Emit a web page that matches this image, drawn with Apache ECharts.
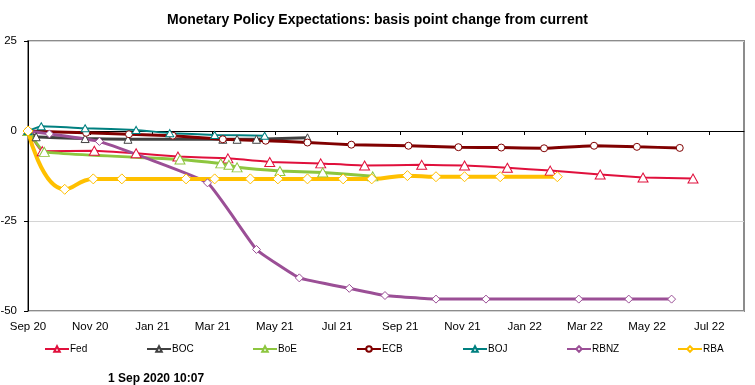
<!DOCTYPE html>
<html><head><meta charset="utf-8">
<script src="https://cdn.jsdelivr.net/npm/echarts@6/dist/echarts.min.js"></script>
<style>html,body{margin:0;padding:0;background:#fff}#c{width:755px;height:385px}</style>
</head><body><div id="c"></div>
<script>
const MONTHS = ['Jan','Feb','Mar','Apr','May','Jun','Jul','Aug','Sep','Oct','Nov','Dec'];
const xTicks = ['2020-09-01','2020-11-01','2021-01-01','2021-03-01','2021-05-01','2021-07-01','2021-09-01','2021-11-01','2022-01-01','2022-03-01','2022-05-01','2022-07-01'];
const yTicks = [-50,-25,0,25];
const xMin = '2020-09-01', xMax = '2022-08-04';

const fedDates = ['2020-09-01','2020-09-15','2020-11-05','2020-12-16','2021-01-26','2021-03-16','2021-04-26','2021-06-15','2021-07-28','2021-09-22','2021-11-03','2021-12-15','2022-01-26','2022-03-16','2022-04-27','2022-06-15'];
const fedValues = [0,-5.6,-5.5,-6.2,-7.1,-7.6,-8.6,-9.0,-9.6,-9.4,-9.6,-10.2,-11.0,-12.1,-12.9,-13.2];

const bocDates = ['2020-09-01','2020-09-09','2020-10-27','2020-12-08','2021-03-11','2021-03-25','2021-04-13','2021-06-02'];
const bocValues = [0,-1.6,-2.1,-2.3,-2.3,-2.3,-2.3,-1.9];

const boeDates = ['2020-09-01','2020-09-17','2021-01-28','2021-03-09','2021-03-17','2021-03-25','2021-05-06','2021-06-17','2021-08-05'];
const boeValues = [0,-5.8,-7.9,-9.0,-9.4,-10.1,-11.1,-11.5,-12.6];

const ecbDates = ['2020-09-01','2020-10-28','2020-12-09','2021-01-21','2021-03-11','2021-04-22','2021-06-02','2021-07-15','2021-09-09','2021-10-28','2021-12-09','2022-01-20','2022-03-10','2022-04-21','2022-06-02'];
const ecbValues = [0,-0.5,-0.9,-1.3,-2.3,-2.7,-3.2,-3.8,-4.1,-4.5,-4.6,-4.8,-4.1,-4.4,-4.7];

const bojDates = ['2020-09-01','2020-09-14','2020-10-27','2020-12-16','2021-01-18','2021-03-03','2021-04-21'];
const bojValues = [0,1.3,0.75,0.3,-0.6,-1.1,-1.3];

const rbnzDates = ['2020-09-01','2020-09-22','2020-11-10','2021-02-24','2021-04-13','2021-05-25','2021-07-13','2021-08-17','2021-10-06','2021-11-24','2022-02-23','2022-04-13','2022-05-25'];
const rbnzValues = [0,-0.8,-2.9,-14.4,-32.9,-40.8,-43.7,-45.7,-46.7,-46.7,-46.7,-46.7,-46.7];

const rbaDates = ['2020-09-01','2020-10-07','2020-11-04','2020-12-02','2021-02-03','2021-03-03','2021-04-07','2021-05-04','2021-06-02','2021-07-07','2021-08-04','2021-09-08','2021-10-06','2021-11-03','2021-12-08','2022-02-02'];
const rbaValues = [0,-16.2,-13.3,-13.3,-13.3,-13.3,-13.3,-13.3,-13.3,-13.3,-13.3,-12.4,-12.7,-12.7,-12.7,-12.7];

const FONT = '"Liberation Sans", Arial, sans-serif';
function ts(s){ const p = s.split('-'); return new Date(+p[0], +p[1]-1, +p[2]).getTime(); }
function pairs(d, v){ return d.map((x,i)=>[ts(x), v[i]]); }
function fmt(val){ const d = new Date(val + 43200000); return MONTHS[d.getMonth()] + ' ' + String(d.getFullYear()).slice(2); }

function mk(name, dates, values, color, symbol, size, lw, smooth){
  return {
    name, type:'line', data: pairs(dates, values), xAxisIndex:0, yAxisIndex:0,
    symbol, symbolSize:size, showSymbol:true, smooth,
    lineStyle:{color, width:lw},
    itemStyle:{color:'#ffffff', borderColor:color, borderWidth:1},
    emphasis:{disabled:true}
  };
}
const series = [
  mk('Fed', fedDates, fedValues, '#E0103C', 'triangle', [10,9], 2, 0.1),
  mk('BOC', bocDates, bocValues, '#404040', 'triangle', [8,8], 3, 0.1),
  mk('BoE', boeDates, boeValues, '#8DC63F', 'triangle', [10,9], 3, 0.1),
  mk('ECB', ecbDates, ecbValues, '#800000', 'circle', 7, 3, 0.1),
  mk('BOJ', bojDates, bojValues, '#008080', 'triangle', [8,7], 2, 0.1),
  mk('RBNZ', rbnzDates, rbnzValues, '#9B4F96', 'diamond', [8,8], 3, 0.1),
  mk('RBA', rbaDates, rbaValues, '#FFC000', 'diamond', [10,10], 4, 0.5)
];
const names = ['Fed','BOC','BoE','ECB','BOJ','RBNZ','RBA'];
const legLefts = [44,146,252,356,462,566,677];
const legends = names.map((n,i)=>({
  data:[n], left:legLefts[i], top:344, orient:'horizontal', padding:0,
  itemWidth:24, itemHeight:7, itemGap:0,
  textStyle:{fontFamily:FONT, fontSize:10, color:'#000', padding:[0,0,0,-4]},
  selectedMode:false
}));
const tickTs = xTicks.map(ts);

const chart = echarts.init(document.getElementById('c'));
chart.setOption({
  animation:false,
  backgroundColor:'#ffffff',
  title:[
    {text:'Monetary Policy Expectations: basis point change from current', left:'center', top:13, padding:0,
     textStyle:{fontFamily:FONT, fontSize:14, fontWeight:'bold', color:'#000'}},
    {text:'1 Sep 2020 10:07', left:108, top:373, padding:0,
     textStyle:{fontFamily:FONT, fontSize:12, fontWeight:'bold', color:'#000'}}
  ],
  legend: legends,
  grid:{left:28, right:11, top:41, bottom:74, show:true, borderColor:'#8c8c8c', borderWidth:2, backgroundColor:'transparent', containLabel:false, outerBoundsMode:'none'},
  xAxis:[
    {type:'value', min:ts(xMin), max:ts(xMax), position:'bottom', scale:true,
     axisLine:{show:false, onZero:false}, axisTick:{show:false}, splitLine:{show:false},
     axisLabel:{customValues:tickTs, formatter:fmt, fontFamily:FONT, fontSize:11.5, color:'#000', margin:10, hideOverlap:false}},
    {type:'value', min:ts(xMin), max:ts(xMax), position:'bottom', scale:true,
     axisLine:{show:true, onZero:true, lineStyle:{color:'#000', width:1}},
     axisTick:{show:true, customValues:tickTs, length:4, inside:false, lineStyle:{color:'#000'}},
     axisLabel:{show:false}, splitLine:{show:false}}
  ],
  yAxis:{type:'value', min:-50, max:25, interval:25,
    axisLine:{show:true, lineStyle:{color:'#000', width:1}},
    axisTick:{show:true, length:4, inside:false, lineStyle:{color:'#000'}},
    axisLabel:{fontFamily:FONT, fontSize:11.5, color:'#000', margin:11},
    splitLine:{show:true, lineStyle:{color:'#d4d4d4', width:1}}},
  series
});
</script></body></html>
